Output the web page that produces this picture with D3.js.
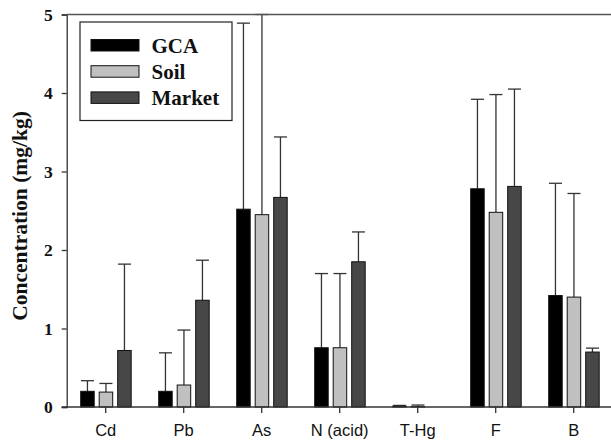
<!DOCTYPE html>
<html>
<head>
<meta charset="utf-8">
<script src="https://cdn.jsdelivr.net/npm/d3@7"></script>
<style>
  html, body { margin: 0; padding: 0; background: #fff; }
  svg { display: block; }
</style>
</head>
<body>
<svg id="chart" width="611" height="442"></svg>
<script>
const categories = ['Cd', 'Pb', 'As', 'N (acid)', 'T-Hg', 'F', 'B'];
const series = ['GCA', 'Soil', 'Market'];
const colorsList = ['#000000', '#c0c0c0', '#474747'];

// mean values
const gcaValues = [0.20, 0.20, 2.52, 0.755, 0.01, 2.78, 1.42];
const soilValues = [0.19, 0.28, 2.45, 0.755, 0.005, 2.48, 1.40];
const marketValues = [0.72, 1.36, 2.67, 1.85, 0, 2.81, 0.70];

// upper end of error bars
const gcaErrTop = [0.335, 0.69, 4.89, 1.70, 0.02, 3.92, 2.85];
const soilErrTop = [0.30, 0.98, 5.0, 1.70, 0.025, 3.98, 2.72];
const marketErrTop = [1.82, 1.87, 3.44, 2.23, 0, 4.05, 0.75];

const yTicks = [0, 1, 2, 3, 4, 5];

const values = [gcaValues, soilValues, marketValues];
const errTops = [gcaErrTop, soilErrTop, marketErrTop];

const svg = d3.select('#chart');

const plotLeft = 66.7, plotRight = 612.7, plotTop = 14.5, plotBottom = 407;

const x = d3.scaleBand()
  .domain(categories)
  .range([plotLeft, plotRight])
  .padding(0);

const xInner = d3.scaleBand()
  .domain(series)
  .range([14, 64.5])
  .paddingInner(0.27)
  .paddingOuter(0);

const y = d3.scaleLinear()
  .domain([0, 5])
  .range([plotBottom, plotTop]);

const color = d3.scaleOrdinal().domain(series).range(colorsList);

let data = [];
categories.forEach((c, i) => {
  series.forEach((s, j) => {
    data.push({ cat: c, ser: s, value: values[j][i], err: errTops[j][i] });
  });
});

// error bars (upper only), drawn behind bars
const errG = svg.append('g')
  .attr('stroke', '#333')
  .attr('stroke-width', 1.3);

data.filter((d) => d.err > d.value).forEach((d) => {
  const cx = x(d.cat) + xInner(d.ser) + xInner.bandwidth() / 2;
  errG.append('line')
    .attr('x1', cx).attr('x2', cx)
    .attr('y1', y(d.value)).attr('y2', y(d.err));
  errG.append('line')
    .attr('x1', cx - 6.5).attr('x2', cx + 6.5)
    .attr('y1', y(d.err)).attr('y2', y(d.err));
});

// bars
svg.append('g')
  .selectAll('rect')
  .data(data.filter((d) => d.value > 0))
  .join('rect')
  .attr('x', (d) => x(d.cat) + xInner(d.ser))
  .attr('y', (d) => y(d.value))
  .attr('width', xInner.bandwidth())
  .attr('height', (d) => y(0) - y(d.value))
  .attr('fill', (d) => color(d.ser))
  .attr('stroke', '#111')
  .attr('stroke-width', 1);

// y axis
const yAxis = svg.append('g')
  .attr('transform', `translate(${plotLeft},0)`)
  .call(d3.axisLeft(y).tickValues(yTicks).tickFormat(d3.format('d')).tickSize(5).tickPadding(9));
yAxis.select('.domain').attr('stroke', '#333').attr('stroke-width', 1.3);
yAxis.selectAll('.tick line').attr('stroke', '#333').attr('stroke-width', 1.3);
yAxis.selectAll('text')
  .attr('font-family', '"Liberation Serif", "Times New Roman", serif')
  .attr('font-weight', 'bold')
  .attr('font-size', 17.5)
  .attr('fill', '#111');

// top frame line
svg.append('line')
  .attr('x1', plotLeft).attr('x2', 611)
  .attr('y1', y(5)).attr('y2', y(5))
  .attr('stroke', '#555')
  .attr('stroke-width', 1.6);

// x axis
const xAxis = svg.append('g')
  .attr('transform', `translate(0,${plotBottom})`)
  .call(d3.axisBottom(x).tickSize(6).tickPadding(11).tickSizeOuter(0));
xAxis.select('.domain').attr('stroke', '#333').attr('stroke-width', 1.3)
  .attr('d', `M${plotLeft - 5},0H611`);
xAxis.selectAll('.tick line').attr('stroke', '#333').attr('stroke-width', 1.3);
xAxis.selectAll('text')
  .attr('font-family', '"Liberation Sans", Arial, sans-serif')
  .attr('font-size', 16.5)
  .attr('fill', '#111');

// y label
svg.append('text')
  .attr('transform', 'translate(27,216) rotate(-90)')
  .attr('text-anchor', 'middle')
  .attr('font-family', '"Liberation Serif", "Times New Roman", serif')
  .attr('font-weight', 'bold')
  .attr('font-size', 21.5)
  .attr('fill', '#111')
  .text('Concentration (mg/kg)');

// legend
const legend = svg.append('g');
legend.append('rect')
  .attr('x', 80).attr('y', 22)
  .attr('width', 152).attr('height', 98.5)
  .attr('fill', '#fff')
  .attr('stroke', '#222')
  .attr('stroke-width', 1.2);

series.forEach((s, i) => {
  const yy = 39.5 + i * 26.2;
  legend.append('rect')
    .attr('x', 91).attr('y', yy)
    .attr('width', 48).attr('height', 11.5)
    .attr('fill', color(s))
    .attr('stroke', '#111')
    .attr('stroke-width', 1);
  legend.append('text')
    .attr('x', 151.5).attr('y', yy + 13)
    .attr('font-family', '"Liberation Serif", "Times New Roman", serif')
    .attr('font-weight', 'bold')
    .attr('font-size', 21)
    .attr('fill', '#111')
    .text(s);
});
</script>
</body>
</html>
